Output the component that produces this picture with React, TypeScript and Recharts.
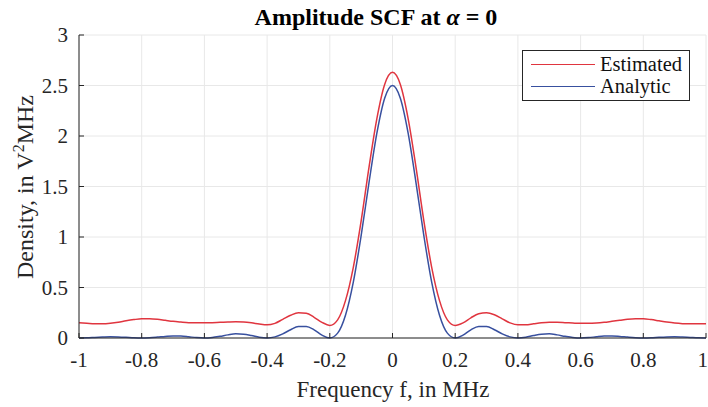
import React from 'react';
import { LineChart, Line, XAxis, YAxis, CartesianGrid, Label } from 'recharts';

// frequency axis, MHz
const freq = [
  -1, -0.975, -0.95, -0.925, -0.9, -0.875, -0.85, -0.825, -0.8, -0.775, -0.75, -0.725, -0.7, -0.675, -0.65, -0.625,
  -0.6, -0.575, -0.55, -0.525, -0.5, -0.475, -0.45, -0.425, -0.4, -0.375, -0.35, -0.325, -0.3, -0.275, -0.25, -0.225,
  -0.2, -0.175, -0.15, -0.125, -0.1, -0.075, -0.05, -0.025, 0, 0.025, 0.05, 0.075, 0.1, 0.125, 0.15, 0.175,
  0.2, 0.225, 0.25, 0.275, 0.3, 0.325, 0.35, 0.375, 0.4, 0.425, 0.45, 0.475, 0.5, 0.525, 0.55, 0.575,
  0.6, 0.625, 0.65, 0.675, 0.7, 0.725, 0.75, 0.775, 0.8, 0.825, 0.85, 0.875, 0.9, 0.925, 0.95, 0.975, 1,
];

const estimated = [
  0.15, 0.145, 0.14, 0.14, 0.145, 0.155, 0.17, 0.182, 0.19, 0.19, 0.185, 0.175, 0.165, 0.158, 0.152, 0.15,
  0.15, 0.152, 0.155, 0.158, 0.16, 0.158, 0.15, 0.138, 0.13, 0.145, 0.185, 0.225, 0.25, 0.245, 0.205, 0.155,
  0.125, 0.18, 0.37, 0.7, 1.16, 1.69, 2.17, 2.51, 2.63, 2.51, 2.17, 1.69, 1.16, 0.7, 0.37, 0.18,
  0.125, 0.15, 0.2, 0.24, 0.25, 0.23, 0.19, 0.15, 0.13, 0.13, 0.14, 0.15, 0.155, 0.155, 0.152, 0.148,
  0.145, 0.145, 0.148, 0.155, 0.165, 0.175, 0.185, 0.19, 0.19, 0.182, 0.17, 0.158, 0.148, 0.142, 0.14, 0.14, 0.142,
];

const analytic = [
  0, 0.002, 0.006, 0.01, 0.013, 0.011, 0.007, 0.002, 0, 0.003, 0.009, 0.016, 0.021, 0.019, 0.012, 0.004,
  0, 0.005, 0.017, 0.031, 0.041, 0.038, 0.025, 0.008, 0, 0.011, 0.041, 0.082, 0.113, 0.114, 0.081, 0.029,
  0, 0.048, 0.225, 0.553, 1.013, 1.537, 2.026, 2.374, 2.5, 2.374, 2.026, 1.537, 1.013, 0.553, 0.225, 0.048,
  0, 0.029, 0.081, 0.114, 0.113, 0.082, 0.041, 0.011, 0, 0.008, 0.025, 0.038, 0.041, 0.031, 0.017, 0.005,
  0, 0.004, 0.012, 0.019, 0.021, 0.016, 0.009, 0.003, 0, 0.002, 0.007, 0.011, 0.013, 0.01, 0.006, 0.002, 0,
];

const xTicks = [-1, -0.8, -0.6, -0.4, -0.2, 0, 0.2, 0.4, 0.6, 0.8, 1];
const yTicks = [0, 0.5, 1, 1.5, 2, 2.5, 3];

const series = [
  { key: 'est', name: 'Estimated', color: '#e0353f' },
  { key: 'ana', name: 'Analytic', color: '#38509f' },
];

const data = freq.map((f, i) => ({ f, est: estimated[i], ana: analytic[i] }));

const FONT = '"Liberation Serif", "Times New Roman", serif';
const AXIS = '#262626';

const LegendBox = () => (
  <div
    style={{
      position: 'absolute',
      left: 522,
      top: 50,
      width: 168,
      height: 51,
      border: `1px solid ${AXIS}`,
      background: '#fff',
      fontFamily: FONT,
      fontSize: 20.5,
      color: '#111',
      boxSizing: 'border-box',
      padding: '2px 0 0 8px',
      lineHeight: '22px',
    }}
  >
    {series.map((it) => (
      <div key={it.name} style={{ display: 'flex', alignItems: 'center' }}>
        <span style={{ display: 'inline-block', width: 64, height: 0, borderTop: `1.5px solid ${it.color}`, marginRight: 5 }} />
        <span>{it.name}</span>
      </div>
    ))}
  </div>
);

export default function App() {
  return (
    <div style={{ position: 'absolute', left: 0, top: 0, width: 708, height: 407, background: '#fff', overflow: 'hidden' }}>
      <div
        style={{
          position: 'absolute',
          left: 176,
          width: 400,
          top: 3,
          textAlign: 'center',
          fontFamily: FONT,
          fontSize: 24,
          fontWeight: 'bold',
          color: '#000',
          lineHeight: '28px',
        }}
      >
        Amplitude SCF at <i>α</i> = 0
      </div>
      <LineChart
        width={708}
        height={407}
        data={data}
        margin={{ top: 35, right: 2, bottom: 39, left: 29 }}
      >
        <CartesianGrid stroke="#e8e8e8" strokeWidth={1} />
        <XAxis
          dataKey="f"
          type="number"
          domain={[-1, 1]}
          ticks={xTicks}
          height={30}
          stroke={AXIS}
          tickSize={-5}
          tickMargin={19}
          tick={{ fontFamily: FONT, fontSize: 21, fill: AXIS }}
          allowDataOverflow
        >
          <Label
            content={() => (
              <text x={393} y={397} textAnchor="middle" fontFamily={FONT} fontSize={23} fill={AXIS}>
                Frequency f, in MHz
              </text>
            )}
          />
        </XAxis>
        <XAxis
          xAxisId="top"
          dataKey="f"
          type="number"
          orientation="top"
          domain={[-1, 1]}
          ticks={xTicks}
          height={0}
          stroke={AXIS}
          tickSize={-5}
          tick={false}
        />
        <YAxis
          type="number"
          domain={[0, 3]}
          ticks={yTicks}
          width={50}
          stroke={AXIS}
          tickSize={-5}
          tickMargin={16}
          tick={{ fontFamily: FONT, fontSize: 21, fill: AXIS }}
        >
          <Label
            content={() => (
              <text
                x={33}
                y={187}
                transform="rotate(-90 33 187)"
                textAnchor="middle"
                fontFamily={FONT}
                fontSize={24}
                fill={AXIS}
              >
                Density, in V
                <tspan fontSize={16} dy={-9}>2</tspan>
                <tspan dy={9}>MHz</tspan>
              </text>
            )}
          />
        </YAxis>
        <YAxis
          yAxisId="right"
          orientation="right"
          type="number"
          domain={[0, 3]}
          ticks={yTicks}
          width={0}
          stroke={AXIS}
          tickSize={-5}
          tick={false}
        />
        {series.map((s) => (
          <Line
            key={s.key}
            dataKey={s.key}
            name={s.name}
            type="monotone"
            stroke={s.color}
            strokeWidth={1.5}
            dot={false}
            isAnimationActive={false}
          />
        ))}
      </LineChart>
      <LegendBox />
    </div>
  );
}
